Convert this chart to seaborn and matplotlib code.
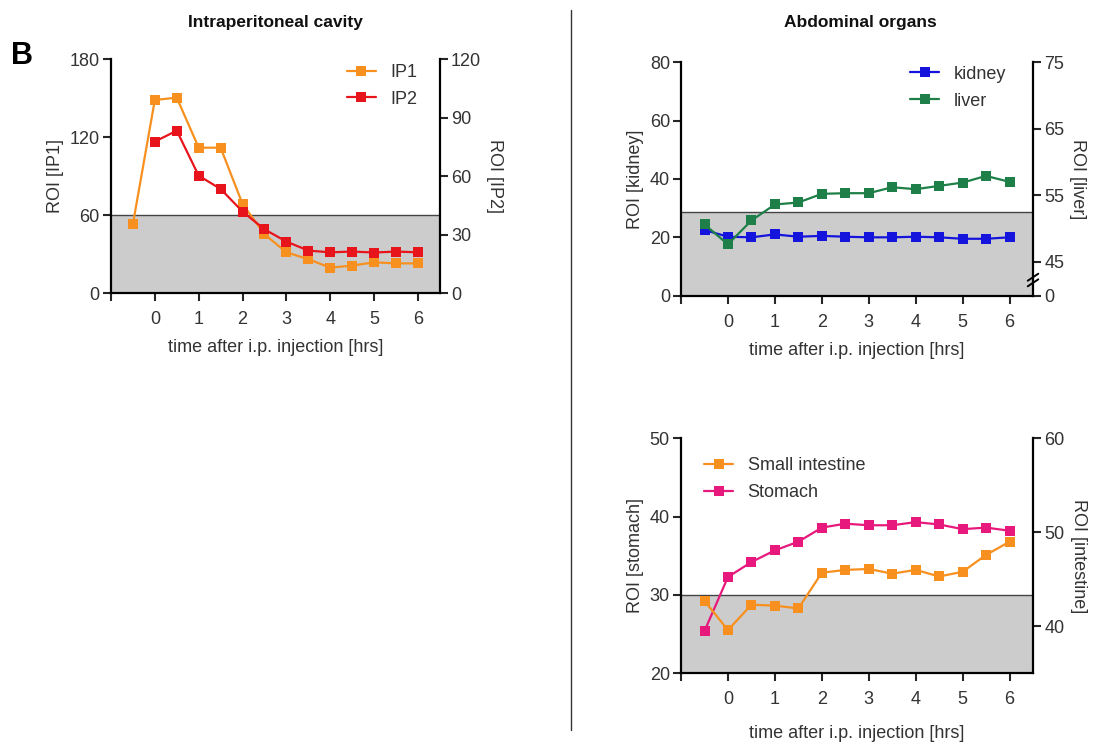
import matplotlib
matplotlib.use("Agg")
import matplotlib.pyplot as plt
import seaborn as sns
import pandas as pd
from matplotlib.lines import Line2D

# time points [hrs]
time = [-0.5, 0, 0.5, 1, 1.5, 2, 2.5, 3, 3.5, 4, 4.5, 5, 5.5, 6]
time_ip2 = time[1:]

# intraperitoneal cavity
ip1 = [53.3, 148.7, 150.5, 112, 112, 68.7, 45.4, 31.5, 26.2, 19.7, 21.3, 23.8, 23, 23]
ip2 = [77.8, 83.4, 60.3, 53.5, 41.9, 32.8, 26.5, 21.9, 21.0, 21.4, 20.9, 21.4, 21.0]

# abdominal organs
kidney = [22.5, 20.2, 20.0, 21.0, 20.2, 20.5, 20.2, 20.0, 20.0, 20.2, 20.0, 19.5, 19.5, 20.0]
liver = [50.6, 47.6, 51.2, 53.6, 53.9, 55.2, 55.3, 55.3, 56.2, 55.9, 56.4, 56.9, 57.9, 57.0]
stomach = [25.4, 32.3, 34.2, 35.7, 36.8, 38.6, 39.1, 38.9, 38.9, 39.3, 39.0, 38.4, 38.6, 38.2]
intestine = [42.7, 39.6, 42.3, 42.2, 41.9, 45.7, 46.0, 46.1, 45.6, 46.0, 45.3, 45.8, 47.6, 49.0]

xticks = [-1, 0, 1, 2, 3, 4, 5, 6]
xticklabels = ["", "0", "1", "2", "3", "4", "5", "6"]

sns.set_style("ticks")
plt.rcParams["font.family"] = ["Liberation Sans", "DejaVu Sans"]

C_IP1 = "#f7901e"
C_IP2 = "#e8141b"
C_KID = "#1414dc"
C_LIV = "#1e8048"
C_STO = "#e8197c"
C_INT = "#f7901e"
TXT = "#333333"

fig = plt.figure(figsize=(11.02, 7.44), dpi=100)


def style_axes(ax, ax2, ylim, yticks, ylim2, yticks2, ylab, ylab2, shade, ytl2=None, xpad=8):
    ax.set_xlim(-1, 6.5)
    ax.set_ylim(*ylim)
    ax.set_yticks(yticks)
    ax.set_xticks(xticks)
    ax.set_xticklabels(xticklabels)
    ax2.set_ylim(*ylim2)
    ax2.set_yticks(yticks2)
    if ytl2 is not None:
        ax2.set_yticklabels(ytl2)
    ax.axhspan(ylim[0], shade, color="#cccccc", zorder=0, lw=0)
    ax.axhline(shade, color="#444444", lw=1, zorder=0.5)
    for a in (ax, ax2):
        a.spines["top"].set_visible(False)
        for s in ("left", "right", "bottom"):
            a.spines[s].set_linewidth(1.6)
            a.spines[s].set_color("black")
        a.tick_params(axis="both", width=1.5, length=6, labelsize=13,
                      labelcolor=TXT, pad=2)
    ax.tick_params(axis="x", pad=7)
    ax.spines["right"].set_visible(False)
    ax2.spines["left"].set_visible(False)
    ax2.spines["bottom"].set_visible(False)
    ax.set_xlabel("time after i.p. injection [hrs]", fontsize=13, color=TXT, labelpad=xpad)
    ax.set_ylabel(ylab, fontsize=13, color=TXT, labelpad=4)
    ax2.set_ylabel(ylab2, fontsize=13, color=TXT, rotation=270, labelpad=16)
    ax2.set_xlabel("")


def draw(ax, x, y, color, label):
    sns.lineplot(x=x, y=y, ax=ax, color=color, marker="s", markersize=7.5,
                 markeredgewidth=0, linewidth=1.6, label=label, legend=False, zorder=3)


def handle(color, label):
    return Line2D([], [], color=color, marker="s", markersize=7.5,
                  markeredgewidth=0, linewidth=1.6, label=label)


# Panel 1: intraperitoneal cavity
ax1 = fig.add_axes([0.1007, 0.6058, 0.2985, 0.3145])
ax1b = ax1.twinx()
draw(ax1, time, ip1, C_IP1, "IP1")
draw(ax1b, time_ip2, ip2, C_IP2, "IP2")
style_axes(ax1, ax1b, (0, 180), [0, 60, 120, 180], (0, 120), [0, 30, 60, 90, 120],
           "ROI [IP1]", "ROI [IP2]", 60)
ax1b.legend(handles=[handle(C_IP1, "IP1"), handle(C_IP2, "IP2")], loc="upper right",
            bbox_to_anchor=(0.98, 1.05), frameon=False, fontsize=13, handlelength=1.6,
            labelspacing=0.55, labelcolor=TXT, handletextpad=0.8)

# Panel 2: kidney / liver
ax2 = fig.add_axes([0.618, 0.6026, 0.3194, 0.3137])
ax2b = ax2.twinx()
draw(ax2, time, kidney, C_KID, "kidney")
draw(ax2b, time, liver, C_LIV, "liver")
style_axes(ax2, ax2b, (0, 80), [0, 20, 40, 60, 80], (39.88, 75), [39.88, 45, 55, 65, 75],
           "ROI [kidney]", "ROI [liver]", 28.6, ytl2=["0", "45", "55", "65", "75"])
for dy in (-0.012, 0.012):
    ax2b.plot([0.985, 1.015], [0.052 + dy, 0.082 + dy], transform=ax2b.transAxes,
              color="black", lw=1.4, clip_on=False, zorder=5)
ax2b.legend(handles=[handle(C_KID, "kidney"), handle(C_LIV, "liver")], loc="upper right",
            bbox_to_anchor=(0.97, 1.055), frameon=False, fontsize=13, handlelength=1.6,
            labelspacing=0.55, labelcolor=TXT, handletextpad=0.8)

# Panel 3: stomach / small intestine
ax3 = fig.add_axes([0.618, 0.095, 0.3194, 0.3159])
ax3b = ax3.twinx()
draw(ax3, time, stomach, C_STO, "Stomach")
draw(ax3b, time, intestine, C_INT, "Small intestine")
style_axes(ax3, ax3b, (20, 50), [20, 30, 40, 50], (35, 60), [40, 50, 60],
           "ROI [stomach]", "ROI [intestine]", 30, xpad=12)
ax3b.legend(handles=[handle(C_INT, "Small intestine"), handle(C_STO, "Stomach")],
            loc="upper left", bbox_to_anchor=(0.02, 0.99), frameon=False, fontsize=13,
            handlelength=1.6, labelspacing=0.55, labelcolor=TXT, handletextpad=0.8)

# titles, panel letter, separator
fig.text(275 / 1102, 1 - 22 / 744, "Intraperitoneal cavity", ha="center", va="center",
         fontsize=12.5, fontweight="bold", color="#111111")
fig.text(860 / 1102, 1 - 22 / 744, "Abdominal organs", ha="center", va="center",
         fontsize=12.5, fontweight="bold", color="#111111")
fig.text(22 / 1102, 1 - 56 / 744, "B", ha="center", va="center",
         fontsize=22, fontweight="bold", color="black")
fig.add_artist(Line2D([571 / 1102, 571 / 1102], [1 - 10 / 744, 1 - 730 / 744],
                      color="#333333", lw=1))

fig.savefig("out.png", dpi=100)
